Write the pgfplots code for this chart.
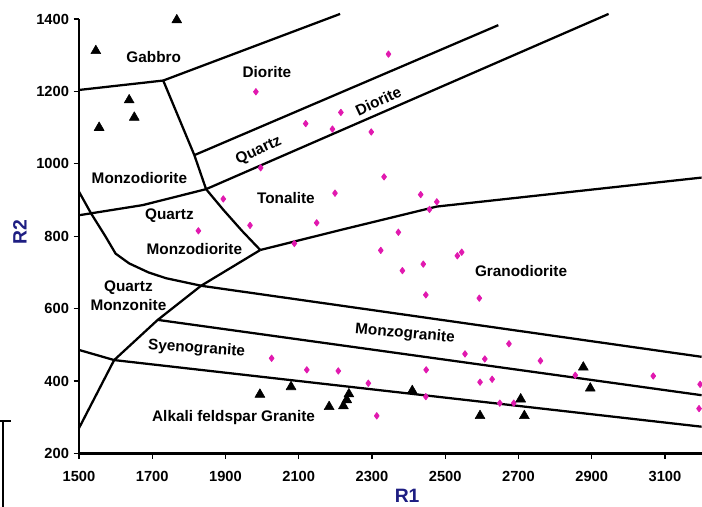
\documentclass[border=0pt]{standalone}
\usepackage{fontspec}
\setmainfont{Liberation Sans}
\usepackage{pgfplots}
\pgfplotsset{compat=1.18}
\definecolor{mag}{RGB}{225,25,175}
\definecolor{navy}{RGB}{30,30,130}
\begin{document}
\begin{tikzpicture}
\begin{axis}[name=ax, scale only axis, width=467pt, height=325.9pt,
  xmin=1500, xmax=3200, ymin=200, ymax=1400,
  axis x line=bottom, axis y line=left,
  axis line style={-, line width=2.1pt},
  xtick={1500,1700,...,3100}, ytick={200,400,...,1400},
  tick align=outside, major tick length=4pt,
  tick style={line width=1pt, black},
  ticklabel style={font=\fontsize{11}{13}\selectfont\bfseries},
  xticklabel style={yshift=-6pt},
  /pgf/number format/assume math mode=true,
  /pgf/number format/set thousands separator={},
  xlabel={R1}, ylabel={R2},
  label style={font=\fontsize{14.5}{16}\selectfont\bfseries, text=navy},
  xlabel style={at={(axis description cs:0.527,-0.097)}, anchor=center},
  ylabel style={at={(axis description cs:-0.0948,0.51)}, anchor=center, rotate=0},
  clip=false,
  every axis plot/.append style={line join=round},
]
% classification boundaries
\addplot[black, line width=1.7pt] coordinates {(1500,1204) (1730,1230)};
\addplot[black, line width=1.7pt] coordinates {(1730,1230) (2213,1414)};
\addplot[black, line width=1.7pt] coordinates {(1730,1230) (1815,1024) (1847,930) (1895,872) (1945,815) (1995,762)};
\addplot[black, line width=1.7pt] coordinates {(1815,1024) (2645,1383)};
\addplot[black, line width=1.7pt] coordinates {(1847,930) (2946,1414)};
\addplot[black, line width=1.7pt] coordinates {(1500,858) (1674,886) (1847,930)};
\addplot[black, line width=1.7pt] coordinates {(1995,762) (2213,817) (2477,882) (3200,962)};
\addplot[black, line width=1.7pt] coordinates {(1500,270) (1596,458) (1715,569) (1833,663) (1995,762)};
\addplot[black, line width=1.7pt] coordinates {(1500,923) (1533,863) (1572,800) (1600,752) (1637,725) (1690,700) (1738,684) (1835,663) (3200,467)};
\addplot[black, line width=1.7pt] coordinates {(1715,569) (3200,361)};
\addplot[black, line width=1.7pt] coordinates {(1500,486) (1596,458) (3200,274)};
% samples
\addplot[only marks, mark=diamond*, mark size=2.4pt, color=mag, mark options={line width=0.6pt}] table {
x y
2345 1303
1983 1199
2215 1142
2119 1111
2192 1096
2298 1088
1996 989
2333 964
1894 903
2199 919
2433 915
2477 895
2457 874
1826 815
1967 830
2149 837
2088 780
2372 811
2324 761
2440 723
2383 705
2447 638
2533 746
2545 756
2593 629
2554 475
2608 461
2674 503
2760 456
2448 431
2290 394
2595 397
2628 405
2447 357
2313 304
2649 339
2687 339
2855 416
3068 414
3196 391
3193 324
2026 463
2122 431
2208 428
};
\addplot[only marks, mark=triangle*, mark size=4.3pt, color=black] table {
x y
1767 1397
1546 1312
1637 1176
1651 1128
1555 1100
1994 363
2079 384
2183 329
2222 331
2231 348
2237 364
2410 373
2595 304
2706 350
2716 304
2877 438
2896 380
};
% field labels
\begin{scope}[every node/.style={font=\fontsize{11.5}{13.8}\selectfont\bfseries, inner sep=0pt}]
\node at (axis cs:1704,1294) {Gabbro};
\node at (axis cs:2013,1254) {Diorite};
\node[rotate=25] at (axis cs:1991,1036) {Quartz};
\node[rotate=25] at (axis cs:2317,1174) {Diorite};
\node at (axis cs:1665,962) {Monzodiorite};
\node at (axis cs:2065,905) {Tonalite};
\node at (axis cs:1747,857) {Quartz};
\node at (axis cs:1815,765) {Monzodiorite};
\node[align=center] at (axis cs:1635,636) {Quartz\\Monzonite};
\node at (axis cs:2707,704) {Granodiorite};
\node[rotate=-5] at (axis cs:2390,530) {Monzogranite};
\node[rotate=-4] at (axis cs:1821,489) {Syenogranite};
\node at (axis cs:1922,299) {Alkali feldspar Granite};
\end{scope}
\end{axis}
\draw[line width=1.5pt] ([shift={(-59.25pt,24.6pt)}]ax.south west) -- ([shift={(-51pt,24.6pt)}]ax.south west);
\draw[line width=1.5pt] ([shift={(-57.2pt,24.6pt)}]ax.south west) -- ([shift={(-57.2pt,-41pt)}]ax.south west);
\pgfresetboundingbox
\path[use as bounding box] ([shift={(-59.25pt,-40.1pt)}]ax.south west) rectangle ([shift={(0.3pt,14.25pt)}]ax.north east);
\end{tikzpicture}
\end{document}
